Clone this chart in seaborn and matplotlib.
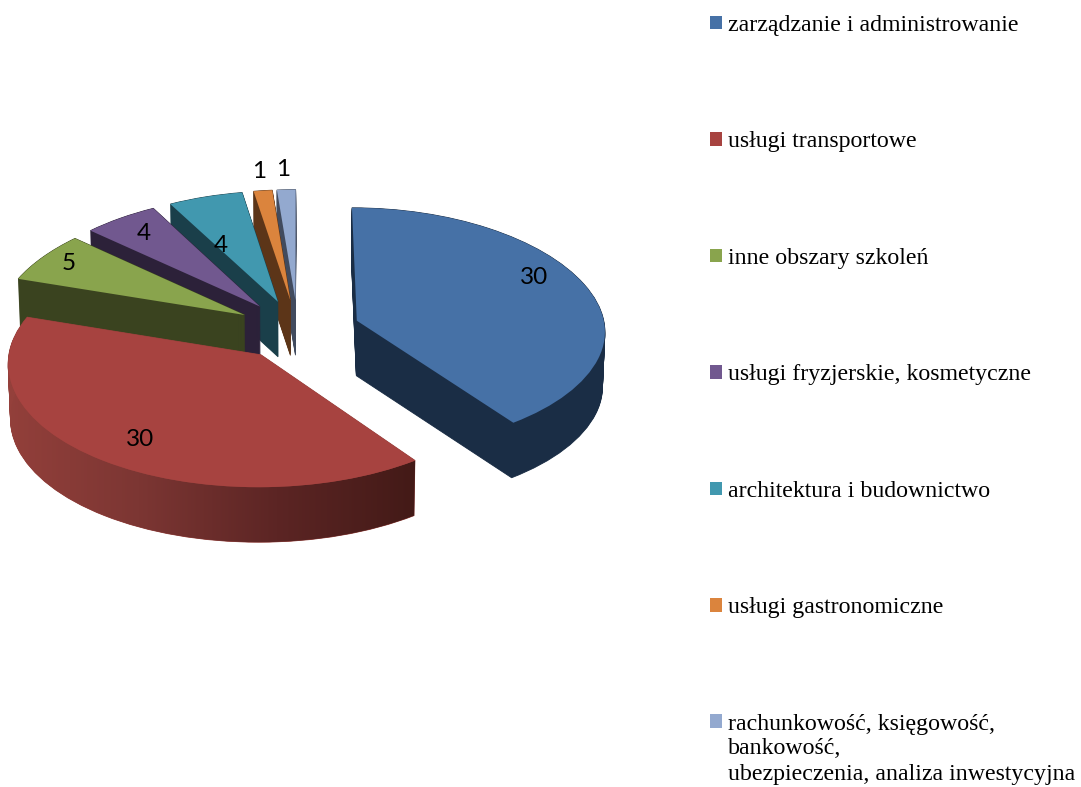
import numpy as np
import seaborn as sns
import matplotlib
matplotlib.use("Agg")
import matplotlib.pyplot as plt
from matplotlib.colors import LinearSegmentedColormap
from matplotlib.path import Path
from matplotlib.transforms import Transform

categories = [
    "zarządzanie i administrowanie",
    "usługi transportowe",
    "inne obszary szkoleń",
    "usługi fryzjerskie, kosmetyczne",
    "architektura i budownictwo",
    "usługi gastronomiczne",
    "rachunkowość, księgowość,",
]
extra_lines = ["bankowość,", "ubezpieczenia, analiza inwestycyjna"]
values = [30, 30, 5, 4, 4, 1, 1]
top_colors = ["#4671a6", "#a74340", "#89a44d", "#71588f", "#4198af", "#db843d", "#93a9cf"]
side_colors = ["#1a2d45", "#94403b", "#3a431f", "#2c2139", "#1a3f4a", "#5c3518", "#414b5e"]
red_side_colors = ["#94403b", "#7c3633", "#5c2524", "#431a17"]
# back slices first, front ones painted over them
draw_rank = [5, 6, 4, 3, 2, 1, 0]
label_xy = [(534, 278), (140, 439), (69, 264), (144, 234), (221, 246), (259, 172), (283, 169)]

CX, CY, RX, RY = 298, 330, 249, 121
PERSP = 0.062
PERSP_X_BACK = 0.09
DEPTH = 55
SHRINK = 0.008
N_LAYERS = 56


class TiltedPie(Transform):
    # unit pie -> picture pixels, z is how far below the top face we are
    input_dims = 2
    output_dims = 2

    def __init__(self, z=0.0):
        super().__init__()
        self.z = z

    def transform_non_affine(self, values):
        values = np.asarray(values)
        u, v = values[:, 0], values[:, 1]
        px_persp = np.where(v > 0, PERSP_X_BACK, PERSP)
        px = CX + RX * u / (1 + px_persp * v) * (1 - SHRINK * self.z)
        py = CY - RY * v / (1 + PERSP * v) + DEPTH * self.z
        return np.column_stack([px, py])


sns.set_theme(style="white")
plt.rcParams["font.family"] = ["Liberation Serif"]

fig = plt.figure(figsize=(10.81, 7.87), dpi=100)
ax = fig.add_axes([0, 0, 1, 1])
explode = [0.25] * len(values)

for layer in range(N_LAYERS):
    z = 1 - layer / (N_LAYERS - 1)
    wedges, _ = ax.pie(values, explode=explode, startangle=90, counterclock=False,
                       colors=side_colors, wedgeprops={"linewidth": 0.6})
    for i, w in enumerate(wedges):
        w.set_edgecolor(side_colors[i])
        w.set_transform(TiltedPie(z) + ax.transData)
        w.set_zorder(draw_rank[i] * 100 + layer / 2)

faces, _ = ax.pie(values, explode=explode, startangle=90, counterclock=False, colors=top_colors,
                  wedgeprops={"linewidth": 0})
for i, w in enumerate(faces):
    w.set_transform(TiltedPie(0) + ax.transData)
    w.set_zorder(draw_rank[i] * 100 + 50)

# red rim has a left to right shading
red = faces[1]
th = np.radians(np.linspace(red.theta1, red.theta2, 200))
rim = np.column_stack([red.center[0] + red.r * np.cos(th), red.center[1] + red.r * np.sin(th)])
band = np.vstack([TiltedPie(0).transform(rim), TiltedPie(1).transform(rim)[::-1]])
cmap = LinearSegmentedColormap.from_list("red_side", red_side_colors)
grad = ax.imshow(np.linspace(0, 1, 256).reshape(1, -1), cmap=cmap, aspect="auto",
                 extent=(0, 416, 560, 340), zorder=draw_rank[1] * 100 + 40)
grad.set_clip_path(Path(band, closed=True), ax.transData)

for val, (x, y) in zip(values, label_xy):
    ax.text(x, y, str(val), ha="center", va="center", fontsize=17.5, family="Lato",
            color="black", zorder=1000)

ax.set_xlim(0, 1081)
ax.set_ylim(787, 0)
ax.set_aspect("auto")
ax.axis("off")

fs = 17.2
fs_px = fs * 100 / 72
leg = ax.legend(faces, categories, loc="upper left", bbox_to_anchor=(710, 15),
                bbox_transform=ax.transData, frameon=False, fontsize=fs,
                borderaxespad=0, borderpad=0, handlelength=12 / fs_px, handleheight=12 / fs_px,
                handletextpad=6 / fs_px, labelspacing=(117.2 - fs_px * 0.91) / fs_px)
leg.set_zorder(1000)
for t in leg.get_texts():
    t.set_color("black")

for n, line in enumerate(extra_lines):
    ax.text(728, 754 + n * 26, line, ha="left", va="baseline", fontsize=fs, color="black")

fig.savefig("out.png", dpi=100, facecolor="white")
